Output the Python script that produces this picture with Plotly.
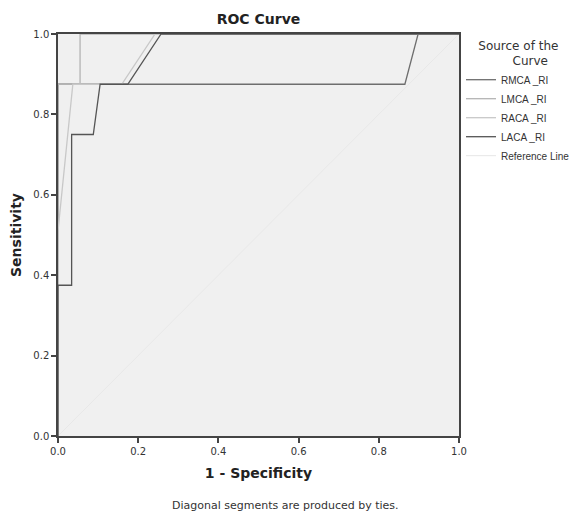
import plotly.graph_objects as go

# Curves (1 - Specificity, Sensitivity)
rmca_x = [0.0, 0.0, 0.865, 0.898, 1.0]
rmca_y = [0.0, 0.875, 0.875, 1.0, 1.0]
lmca_x = [0.0, 0.0, 0.055, 0.055, 1.0]
lmca_y = [0.0, 0.875, 0.875, 1.0, 1.0]
raca_x = [0.0, 0.0, 0.037, 0.159, 0.242, 1.0]
raca_y = [0.0, 0.51, 0.875, 0.875, 1.0, 1.0]
laca_x = [0.0, 0.0, 0.034, 0.034, 0.088, 0.105, 0.174, 0.257, 1.0]
laca_y = [0.0, 0.375, 0.375, 0.75, 0.75, 0.875, 0.875, 1.0, 1.0]
ref_x = [0.0, 1.0]
ref_y = [0.0, 1.0]

tick_vals = [0.0, 0.2, 0.4, 0.6, 0.8, 1.0]
tick_text = ["0.0", "0.2", "0.4", "0.6", "0.8", "1.0"]

FONT = "DejaVu Sans"
LFONT = "Liberation Sans"

fig = go.Figure()
fig.add_trace(go.Scatter(x=ref_x, y=ref_y, mode="lines", name="Reference Line",
                         line=dict(color="#e8e8e8", width=1), showlegend=False))
fig.add_trace(go.Scatter(x=rmca_x, y=rmca_y, mode="lines", name="RMCA _RI",
                         line=dict(color="#6e6e6e", width=1.3)))
fig.add_trace(go.Scatter(x=lmca_x, y=lmca_y, mode="lines", name="LMCA _RI",
                         line=dict(color="#b4b4b4", width=1.3)))
fig.add_trace(go.Scatter(x=raca_x, y=raca_y, mode="lines", name="RACA _RI",
                         line=dict(color="#c8c8c8", width=1.3)))
fig.add_trace(go.Scatter(x=laca_x, y=laca_y, mode="lines", name="LACA _RI",
                         line=dict(color="#555555", width=1.3)))
fig.add_trace(go.Scatter(x=[None], y=[None], mode="lines", name="Reference Line",
                         line=dict(color="#e6e6e6", width=1)))

axis_common = dict(range=[0, 1], tickvals=tick_vals, ticktext=tick_text,
                   showgrid=False, zeroline=False, showline=True, mirror=True,
                   linecolor="#444444", linewidth=1.5, ticks="outside", ticklen=5,
                   tickcolor="#444444", tickwidth=1.5, automargin=False,
                   tickfont=dict(family=FONT, size=10, color="#333333"))

fig.update_layout(
    width=577, height=513,
    margin=dict(l=58, r=118, t=34, b=77, autoexpand=False),
    paper_bgcolor="white", plot_bgcolor="#f0f0f0",
    title=dict(text="<b>ROC Curve</b>", x=(58 + 459) / 2 / 577, xanchor="center",
               y=1 - 19 / 513, yanchor="middle",
               font=dict(family=FONT, size=14, color="#222222")),
    xaxis=dict(axis_common, title=dict(text="<b>1 - Specificity</b>", standoff=12,
               font=dict(family=FONT, size=14, color="#222222"))),
    yaxis=dict(axis_common, title=dict(text="<b>Sensitivity</b>", standoff=8,
               font=dict(family=FONT, size=14, color="#222222"))),
    legend=dict(x=1.005, y=1.0, xanchor="left", yanchor="top",
                title=dict(text="    Source of the<br>             Curve", side="top",
                           font=dict(family=FONT, size=12, color="#333333")),
                font=dict(family=LFONT, size=10, color="#333333"),
                bgcolor="rgba(0,0,0,0)", tracegroupgap=0, itemwidth=30),
    showlegend=True,
    annotations=[dict(text="Diagonal segments are produced by ties.",
                      xref="paper", yref="paper", x=(285 - 58) / 401,
                      y=-(505 - 436) / 402, xanchor="center", yanchor="middle",
                      showarrow=False, font=dict(family=FONT, size=11, color="#333333"))],
)

fig.write_html("out.html", config={"displayModeBar": False},
               post_script="document.body.style.margin='0';document.body.style.overflow='hidden';")
